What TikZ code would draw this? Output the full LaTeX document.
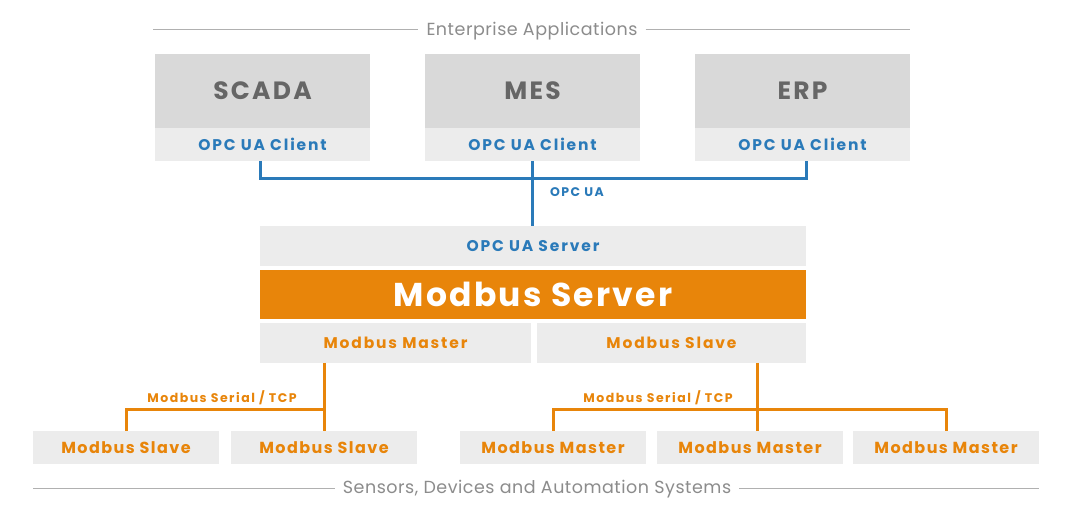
\documentclass[tikz,border=0pt]{standalone}
\usepackage{fontspec}
\setmainfont{Poppins}
\newfontfamily\spA[LetterSpace=9]{Poppins}
\newfontfamily\spB[LetterSpace=7]{Poppins}
\newfontfamily\spC[LetterSpace=12]{Poppins}
\newfontfamily\spD[LetterSpace=3]{Poppins}
\definecolor{gdark}{HTML}{D9D9D9}
\definecolor{glight}{HTML}{ECECEC}
\definecolor{opcblue}{HTML}{2A7AB9}
\definecolor{mborange}{HTML}{E8850A}
\definecolor{txtgray}{HTML}{666666}
\definecolor{capgray}{HTML}{8C8C8C}
\definecolor{rulegray}{HTML}{B0B0B0}
\begin{document}
\begin{tikzpicture}[x=1pt,y=-1pt,
  box/.style={fill=#1, inner sep=0pt, outer sep=0pt, draw=none},
  app/.style={box=gdark, minimum width=215pt, minimum height=74pt, font=\spA\fontsize{25}{28}\selectfont\bfseries, text=txtgray},
  client/.style={box=glight, minimum width=215pt, minimum height=33pt, font=\spC\fontsize{15.5}{18}\selectfont\bfseries, text=opcblue},
  wide/.style={box=glight, minimum width=546pt, minimum height=40pt},
  half/.style={box=glight, minimum height=40pt, font=\spC\fontsize{15.5}{18}\selectfont\bfseries, text=mborange},
  dev/.style={box=glight, minimum width=186pt, minimum height=33pt, font=\spA\fontsize{16}{18}\selectfont\bfseries, text=mborange},
  bluewire/.style={draw=opcblue, line width=3pt},
  orangewire/.style={draw=mborange, line width=3pt},
  lbl/.style={font=\spC\fontsize{12.5}{14}\selectfont\bfseries, inner sep=0pt},
  caption/.style={font=\spD\fontsize{17.5}{20}\selectfont, text=capgray, inner sep=0pt},
  rulel/.style={draw=rulegray, line width=1pt}
]
\useasboundingbox[fill=white] (0,0) rectangle (1080,521);

% captions
\node[caption] (enttxt) at (532,31) {Enterprise Applications};
\coordinate (entL) at (153,30);
\coordinate (entR) at (910,30);
\draw[rulel] (entL) -- ([xshift=-8pt]enttxt.west |- entL);
\draw[rulel] ([xshift=8pt]enttxt.east |- entR) -- (entR);

\node[caption] (sentxt) at (537,489) {Sensors, Devices and Automation Systems};
\coordinate (senL) at (33,488);
\coordinate (senR) at (1039,488);
\draw[rulel] (senL) -- ([xshift=-8pt]sentxt.west |- senL);
\draw[rulel] ([xshift=8pt]sentxt.east |- senR) -- (senR);

% applications
\node[app] (scada) at (262.5,91) {SCADA};
\node[app] (mes) at (532.5,91) {MES};
\node[app] (erp) at (802.5,91) {ERP};
\node[client] (c1) at (262.5,144.5) {OPC UA Client};
\node[client] (c2) at (532.5,144.5) {OPC UA Client};
\node[client] (c3) at (802.5,144.5) {OPC UA Client};

% server stack
\node[wide, font=\spC\fontsize{15.5}{18}\selectfont\bfseries, text=opcblue] (opcs) at (533,246) {OPC UA Server};
\node[box=mborange, minimum width=546pt, minimum height=49pt, font=\spB\fontsize{33}{36}\selectfont\bfseries, text=white] (mbs) at (533,294.5) {Modbus Server};
\node[half, minimum width=271pt] (mmaster) at (395.5,343) {Modbus Master};
\node[half, minimum width=269pt] (mslave) at (671.5,343) {Modbus Slave};

% devices
\node[dev] (s1) at (126,447.5) {Modbus Slave};
\node[dev] (s2) at (324,447.5) {Modbus Slave};
\node[dev] (m1) at (553,447.5) {Modbus Master};
\node[dev] (m2) at (750,447.5) {Modbus Master};
\node[dev] (m3) at (946,447.5) {Modbus Master};

% OPC UA wiring
\coordinate (bl) at (260,179);
\coordinate (br) at (806,179);
\draw[bluewire] (c1.south -| bl) -- (bl) -- (br) -- (c3.south -| br);
\draw[bluewire] (c2.south) -- (opcs.north -| c2.south);
\node[lbl, text=opcblue] (opclbl) at (577,192) {OPC UA};

% Modbus wiring left
\coordinate (lj) at (324,410);
\coordinate (ll) at (126,410);
\draw[orangewire] (mmaster.south -| lj) -- (s2.north);
\draw[orangewire] (lj) -- (ll) -- (s1.north);
\node[lbl, text=mborange] (llbl) at (222,398) {Modbus Serial / TCP};

% Modbus wiring right
\coordinate (rj) at (757,410);
\coordinate (rl) at (553,410);
\coordinate (rr) at (946,410);
\draw[orangewire] (mslave.south -| rj) -- (rj |- m2.north);
\draw[orangewire] (m1.north) -- (rl) -- (rr) -- (m3.north);
\node[lbl, text=mborange] (rlbl) at (658,398) {Modbus Serial / TCP};
\end{tikzpicture}
\end{document}
